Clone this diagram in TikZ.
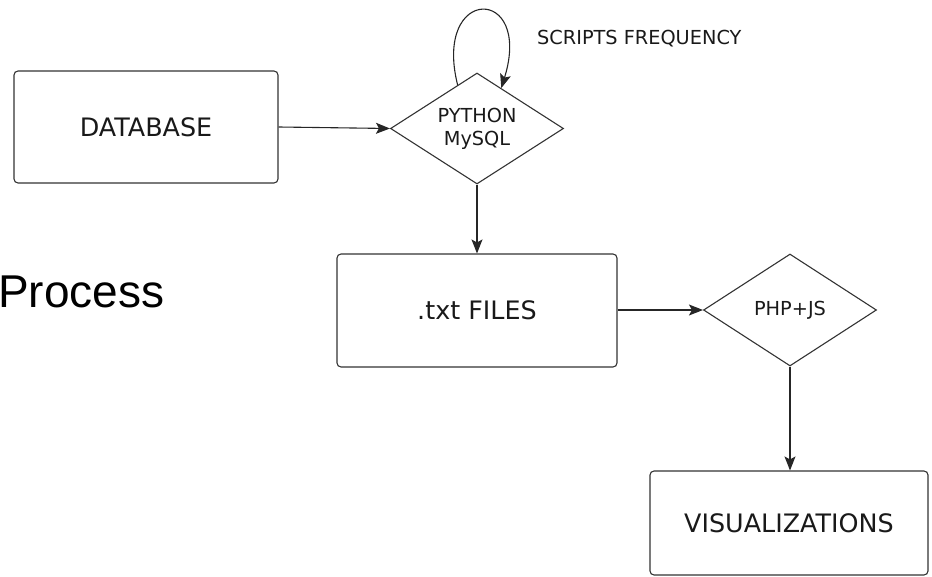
\documentclass[tikz,border=0pt]{standalone}
\usepackage{fontspec}
\setmainfont{DejaVu Sans}
\newfontfamily\titlefont{Liberation Sans}
\usetikzlibrary{shapes.geometric,arrows.meta}
\tikzset{
	box/.style={draw=black!80, line width=1.1pt, rounded corners=4pt, text=black!90,
		font=\fontsize{25.4pt}{30pt}\selectfont},
	decision/.style={diamond, draw=black!80, line width=1.1pt, aspect=1.55, inner sep=0pt,
		align=center, text=black!90, font=\fontsize{19.3pt}{23pt}\selectfont},
	arr/.style={draw=black!85, line width=1.1pt, -{Stealth[length=14pt,width=11pt,inset=3pt]}}
}

\begin{document}
\begin{tikzpicture}[x=1pt,y=-1pt]
		\useasboundingbox (0,0) rectangle (932,577);

		% Define nodes
		\node[box, minimum width=264pt, minimum height=112pt] (DB) at (146,127) {DATABASE};
		\node[decision, minimum width=173pt, minimum height=111pt] (PY) at (477,128.5) {PYTHON\\MySQL};
		\node[box, minimum width=280pt, minimum height=113pt] (TXT) at (477,310.5) {.txt FILES};
		\node[decision, minimum width=173pt, minimum height=112pt] (PHP) at (790,310) {PHP+JS};
		\node[box, minimum width=278pt, minimum height=104pt] (VIS) at (789,523) {VISUALIZATIONS};
		\node[anchor=base west, inner sep=0pt, text=black!90, font=\fontsize{19.3pt}{23pt}\selectfont] (FREQ) at (537,45) {SCRIPTS FREQUENCY};
		\node[anchor=base west, inner sep=0pt, font=\titlefont\fontsize{46pt}{50pt}\selectfont] (title) at (-2,308) {Process};

		% Connect the nodes
		\draw[arr] (DB.east) -- (PY.west);
		\draw[arr] (PY.south) -- (TXT.north);
		\draw[arr] (TXT.east |- PHP.west) -- (PHP.west);
		\draw[arr] (PHP.south) -- (VIS.north -| PHP.south);
		\draw[arr] (PY.114) .. controls +(-25,-100) and +(32,-103) .. (PY.59);
	\end{tikzpicture}
\end{document}
